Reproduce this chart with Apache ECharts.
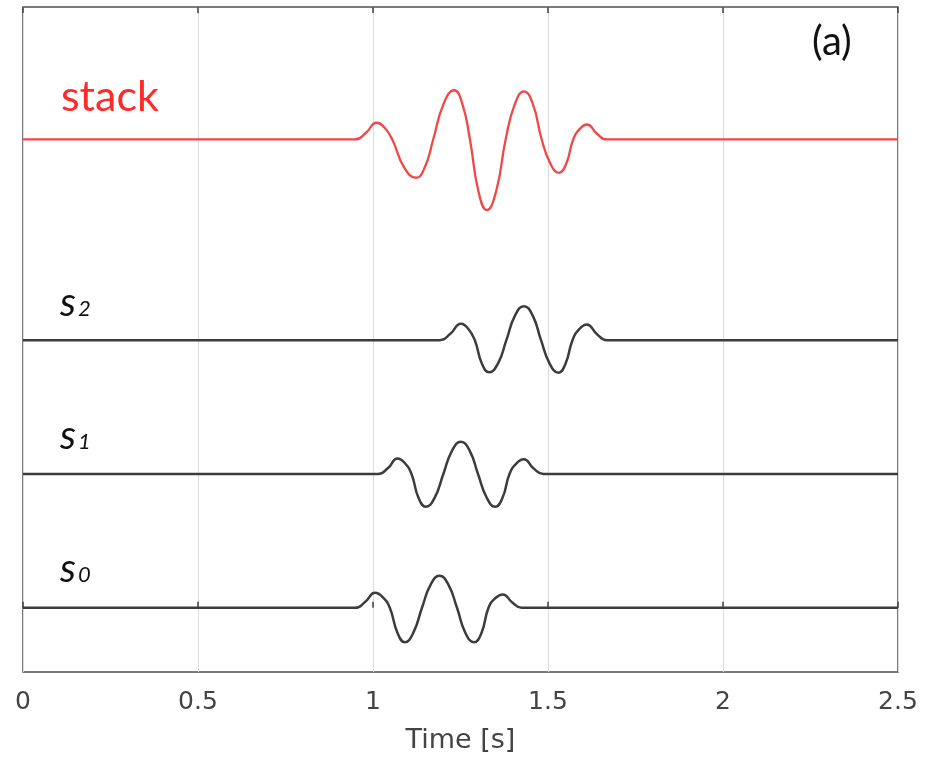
<!DOCTYPE html>
<html>
<head>
<meta charset="utf-8">
<script src="https://cdn.jsdelivr.net/npm/echarts@6/dist/echarts.min.js"></script>
<style>
html,body{margin:0;padding:0;background:#fff;}
#chart{width:925px;height:759px;}
</style>
</head>
<body>
<div id="chart"></div>
<script>
// Time ticks
var xTicks = [0, 0.5, 1, 1.5, 2, 2.5];
// Trace offsets (vertical stacking, data units)
var offsets = { s0: 0, s1: 1, s2: 2, stack: 3.5 };

// s0 trace
var s0Time = [0, 0.949, 0.978, 1.006, 1.027, 1.048, 1.070, 1.091, 1.115, 1.140, 1.165, 1.190, 1.215, 1.240, 1.264, 1.289, 1.310, 1.330, 1.350, 1.371, 1.398, 1.425, 2.5];
var s0Amp  = [0, 0,     0.045, 0.112, 0.082, 0,     -0.188, -0.258, -0.188, 0,   0.175, 0.239, 0.175, 0,     -0.188, -0.258, -0.188, 0,   0.073, 0.100, 0.040, 0,     0];

// s1 trace
var s1Time = [0, 1.015, 1.043, 1.070, 1.090, 1.110, 1.130, 1.151, 1.176, 1.201, 1.226, 1.251, 1.276, 1.300, 1.325, 1.349, 1.370, 1.390, 1.410, 1.431, 1.459, 1.487, 2.5];
var s1Amp  = [0, 0,     0.045, 0.115, 0.084, 0,     -0.178, -0.245, -0.178, 0,   0.175, 0.240, 0.175, 0,     -0.178, -0.245, -0.178, 0,   0.080, 0.110, 0.040, 0,     0];

// s2 trace
var s2Time = [0, 1.191, 1.221, 1.251, 1.271, 1.291, 1.311, 1.332, 1.357, 1.381, 1.406, 1.431, 1.456, 1.480, 1.505, 1.530, 1.550, 1.570, 1.590, 1.611, 1.640, 1.668, 2.5];
var s2Amp  = [0, 0,     0.048, 0.122, 0.089, 0,     -0.175, -0.239, -0.175, 0,   0.185, 0.254, 0.185, 0,     -0.177, -0.243, -0.177, 0,   0.085, 0.117, 0.045, 0,     0];

// stack trace
var stackTime = [0, 0.949, 0.980, 1.010, 1.032, 1.055, 1.089, 1.123, 1.148, 1.172, 1.202, 1.232, 1.255, 1.277, 1.301, 1.325, 1.352, 1.379, 1.405, 1.431, 1.457, 1.482, 1.507, 1.531, 1.552, 1.572, 1.592, 1.611, 1.640, 1.668, 2.5];
var stackAmp  = [0, 0,     0.050, 0.125, 0.091, 0,     -0.208, -0.286, -0.208, 0,   0.268, 0.368, 0.268, 0,     -0.385, -0.528, -0.385, 0,   0.262, 0.360, 0.262, 0,     -0.182, -0.249, -0.182, 0,   0.082, 0.112, 0.043, 0,     0];

function build(times, amps, off) {
  return times.map(function (t, i) { return [t, amps[i] + off]; });
}

var chart = echarts.init(document.getElementById('chart'));
var traceStyle = function (color, w) {
  return {
    type: 'line', smooth: 0.5, showSymbol: false, symbol: 'none',
    lineStyle: { color: color, width: w }, animation: false, silent: true
  };
};

var option = {
  animation: false,
  grid: { left: 23, right: 27, top: 7, bottom: 86, show: true, borderColor: '#505050', borderWidth: 1.5, backgroundColor: '#fff' },
  xAxis: [{
    type: 'value', min: 0, max: 2.5, interval: 0.5,
    axisLine: { show: false },
    axisTick: { show: true, inside: true, length: 6, lineStyle: { color: '#404040', width: 1.5 } },
    splitLine: { show: true, lineStyle: { color: '#dcdcdc', width: 1 } },
    axisLabel: {
      fontFamily: 'DejaVu Sans', fontSize: 25, color: '#444', margin: 18,
      formatter: function (v) { return String(v); }
    },
    name: 'Time [s]', nameLocation: 'middle', nameGap: 55,
    nameTextStyle: { fontFamily: 'DejaVu Sans', fontSize: 27, color: '#444' }
  }, {
    type: 'value', min: 0, max: 2.5, interval: 0.5, position: 'top',
    axisLine: { show: false },
    axisTick: { show: true, inside: true, length: 6, lineStyle: { color: '#404040', width: 1.5 } },
    splitLine: { show: false }, axisLabel: { show: false }
  }],
  yAxis: {
    type: 'value', min: -0.48, max: 4.49, show: false, splitLine: { show: false }
  },
  series: [
    Object.assign(traceStyle('#f04848', 2.3), { name: 'stack', data: build(stackTime, stackAmp, offsets.stack) }),
    Object.assign(traceStyle('#3c3c3c', 2.5), { name: 's2', data: build(s2Time, s2Amp, offsets.s2) }),
    Object.assign(traceStyle('#3c3c3c', 2.5), { name: 's1', data: build(s1Time, s1Amp, offsets.s1) }),
    Object.assign(traceStyle('#3c3c3c', 2.5), { name: 's0', data: build(s0Time, s0Amp, offsets.s0) })
  ],
  graphic: [
    { type: 'text', left: 61, top: 76, style: { text: 'stack', fontFamily: 'Lato', fontSize: 43, fill: '#ff2a2a' } },
    { type: 'text', left: 812, top: 22, style: { text: '(a)', fontFamily: 'Lato', fontSize: 40, fill: '#111' } },
    { type: 'text', left: 60, top: 283, style: { text: 's', fontFamily: 'Lato', fontStyle: 'italic', fontSize: 40, fill: '#111' } },
    { type: 'text', left: 78, top: 298, style: { text: '2', fontFamily: 'Lato', fontStyle: 'italic', fontSize: 22, fill: '#111' } },
    { type: 'text', left: 60, top: 416, style: { text: 's', fontFamily: 'Lato', fontStyle: 'italic', fontSize: 40, fill: '#111' } },
    { type: 'text', left: 78, top: 431, style: { text: '1', fontFamily: 'Lato', fontStyle: 'italic', fontSize: 22, fill: '#111' } },
    { type: 'text', left: 60, top: 549, style: { text: 's', fontFamily: 'Lato', fontStyle: 'italic', fontSize: 40, fill: '#111' } },
    { type: 'text', left: 78, top: 564, style: { text: '0', fontFamily: 'Lato', fontStyle: 'italic', fontSize: 22, fill: '#111' } }
  ]
};
chart.setOption(option);
</script>
</body>
</html>
